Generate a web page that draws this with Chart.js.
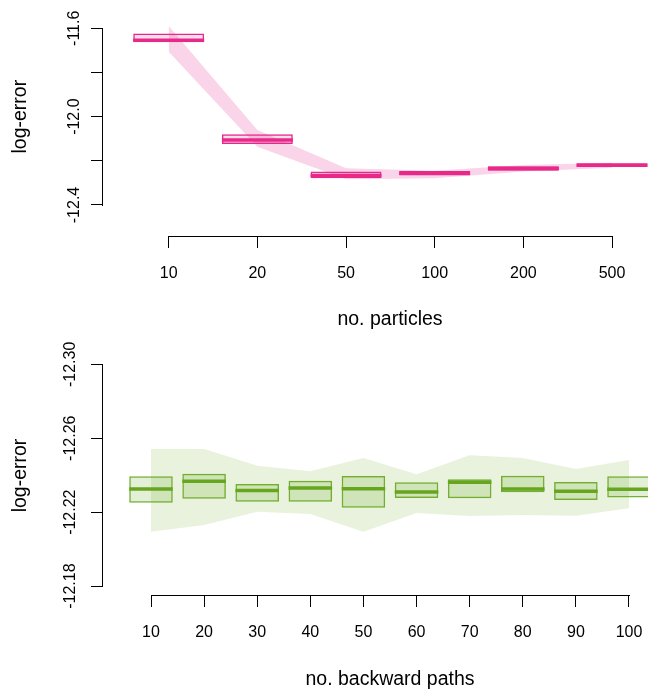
<!DOCTYPE html>
<html>
<head>
<meta charset="utf-8">
<script src="https://cdn.jsdelivr.net/npm/chart.js@4.4.1/dist/chart.umd.min.js"></script>
<style>
  html, body { margin: 0; padding: 0; background: #fff; }
  body { width: 648px; height: 689px; overflow: hidden; position: relative; }
  canvas { position: absolute; left: 0; }
  #particles { top: -20px; }
  #paths { top: 340px; }
</style>
</head>
<body>
<canvas id="particles" width="677" height="360"></canvas>
<canvas id="paths" width="677" height="360"></canvas>
<script>
// top panel: log-error vs number of particles
const particles = ['10', '20', '50', '100', '200', '500'];
const particleBandHi = [-11.590, -12.061, -12.234, -12.245, -12.219, -12.209];
const particleBandLo = [-11.706, -12.136, -12.284, -12.279, -12.249, -12.231];
const particleBoxHi = [-11.624, -12.080, -12.248, -12.246, -12.225, -12.211];
const particleBoxLo = [-11.663, -12.124, -12.279, -12.266, -12.245, -12.228];
const particleMed = [-11.654, -12.106, -12.266, -12.256, -12.235, -12.220];
const particleYTicks = [-11.6, -11.8, -12.0, -12.2, -12.4];
const particleYLabels = [-11.6, -12.0, -12.4];

// bottom panel: log-error vs number of backward paths (axis runs downwards)
const paths = ['10', '20', '30', '40', '50', '60', '70', '80', '90', '100'];
const pathBandLo = [-12.2542, -12.2542, -12.2451, -12.2421, -12.2493, -12.2405, -12.2508, -12.2493, -12.2434, -12.2482];
const pathBandHi = [-12.2094, -12.2131, -12.2203, -12.2190, -12.2094, -12.2196, -12.2179, -12.2185, -12.2181, -12.2221];
const pathBoxLo = [-12.2394, -12.2408, -12.2352, -12.2370, -12.2396, -12.2362, -12.2378, -12.2397, -12.2363, -12.2394];
const pathBoxHi = [-12.2251, -12.2273, -12.2257, -12.2257, -12.2224, -12.2277, -12.2275, -12.2308, -12.2266, -12.2280];
const pathMed = [-12.2325, -12.2367, -12.2318, -12.2331, -12.2327, -12.2309, -12.2362, -12.2325, -12.2313, -12.2324];
const pathYTicks = [-12.30, -12.28, -12.26, -12.24, -12.22, -12.20, -12.18];
const pathYLabels = [-12.30, -12.26, -12.22, -12.18];

Chart.defaults.font.family = '"Liberation Sans", Arial, Helvetica, sans-serif';
Chart.defaults.color = '#000';

// R style axis lines: only from first to last tick
const axisLines = {
  id: 'axisLines',
  afterDraw(chart) {
    const ctx = chart.ctx;
    const x = chart.scales.x, y = chart.scales.y;
    const xt = x.ticks, yt = y.ticks;
    ctx.save();
    ctx.strokeStyle = '#000';
    ctx.lineWidth = 1;
    ctx.beginPath();
    const xa = Math.round(x.top) + 0.5;
    ctx.moveTo(Math.round(x.getPixelForValue(xt[0].value)), xa);
    ctx.lineTo(Math.round(x.getPixelForValue(xt[xt.length - 1].value)) + 1, xa);
    const ya = Math.round(y.right) - 0.5;
    ctx.moveTo(ya, Math.round(y.getPixelForValue(yt[0].value)));
    ctx.lineTo(ya, Math.round(y.getPixelForValue(yt[yt.length - 1].value)) + 1);
    ctx.stroke();
    ctx.restore();
  }
};

function makeChart(id, s) {
  const pts = arr => arr.map((v, i) => ({ x: i, y: v }));
  const halfBox = c => {
    const sc = c.chart.scales.x;
    return (sc.getPixelForValue(1) - sc.getPixelForValue(0)) * s.boxWidth / 2;
  };
  return new Chart(document.getElementById(id), {
    type: 'bar',
    data: {
      datasets: [
        { type: 'line', data: pts(s.bandA), borderWidth: 0, pointRadius: 0, fill: '+1',
          backgroundColor: s.bandFill, order: 3 },
        { type: 'line', data: pts(s.bandB), borderWidth: 0, pointRadius: 0, fill: false, order: 3 },
        { data: s.boxA.map((v, i) => ({ x: i, y: [v, s.boxB[i]] })),
          backgroundColor: s.boxFill, borderColor: s.edge, borderWidth: 1.5, borderSkipped: false,
          barPercentage: s.boxWidth, categoryPercentage: 1, order: 2 },
        { type: 'line', data: pts(s.med), showLine: false, pointStyle: 'line',
          pointRadius: halfBox, pointBorderWidth: 3.5, pointBorderColor: s.line, order: 1 }
      ]
    },
    options: {
      responsive: false,
      animation: false,
      events: [],
      layout: { padding: { top: s.padTop, left: 0, right: 0, bottom: 0 } },
      plugins: { legend: { display: false }, tooltip: { enabled: false } },
      scales: {
        x: {
          type: 'linear', offset: false, min: s.xMin, max: s.xMax,
          afterBuildTicks: sc => { sc.ticks = s.cats.map((c, i) => ({ value: i })); },
          afterFit: sc => { sc.height = s.xHeight; },
          ticks: { autoSkip: false, maxRotation: 0, padding: s.xTickPad, font: { size: 16 },
            callback: v => s.cats[v] },
          grid: { display: true, drawOnChartArea: false, drawTicks: true, tickLength: 12,
            color: '#000', offset: false },
          border: { display: false },
          title: { display: true, text: s.xTitle, font: { size: 19.5 }, padding: { top: 0, bottom: 8.3 } }
        },
        y: {
          type: 'linear', reverse: s.reverse, min: s.yMin, max: s.yMax,
          afterBuildTicks: sc => { sc.ticks = s.yTicks.map(v => ({ value: v })); },
          afterFit: sc => { sc.width = 103; },
          ticks: { minRotation: 90, maxRotation: 90, crossAlign: 'center', padding: -2, font: { size: 16 },
            callback: v => s.yLabels.some(l => Math.abs(l - v) < 1e-9) ? v.toFixed(s.digits) : '' },
          grid: { display: true, drawOnChartArea: false, drawTicks: true, tickLength: 12, color: '#000' },
          border: { display: false },
          title: { display: true, text: 'log-error', font: { size: 19.5 }, padding: { top: 8.8, bottom: 0 } }
        }
      }
    },
    plugins: [axisLines]
  });
}

makeChart('particles', {
  cats: particles, bandA: particleBandHi, bandB: particleBandLo,
  boxA: particleBoxLo, boxB: particleBoxHi, med: particleMed,
  yTicks: particleYTicks, yLabels: particleYLabels, digits: 1,
  xTitle: 'no. particles', reverse: false,
  yMin: -12.5405, yMax: -11.4601, xMin: -0.741, xMax: 5.733,
  padTop: 17.4, xHeight: 104, xTickPad: 15.7, boxWidth: 0.8,
  bandFill: 'rgba(231, 41, 138, 0.2)', boxFill: 'rgba(231, 41, 138, 0.15)',
  edge: '#e7298a', line: '#e7298a'
});

makeChart('paths', {
  cats: paths, bandA: pathBandLo, bandB: pathBandHi,
  boxA: pathBoxLo, boxB: pathBoxHi, med: pathMed,
  yTicks: pathYTicks, yLabels: pathYLabels, digits: 2,
  xTitle: 'no. backward paths', reverse: true,
  yMin: -12.3045, yMax: -12.1752, xMin: -0.9038, xMax: 9.904,
  padTop: 16, xHeight: 105, xTickPad: 16.1, boxWidth: 0.82,
  bandFill: 'rgba(102, 166, 30, 0.15)', boxFill: 'rgba(102, 166, 30, 0.18)',
  edge: 'rgba(102, 166, 30, 0.9)', line: '#66a61e'
});
</script>
</body>
</html>
